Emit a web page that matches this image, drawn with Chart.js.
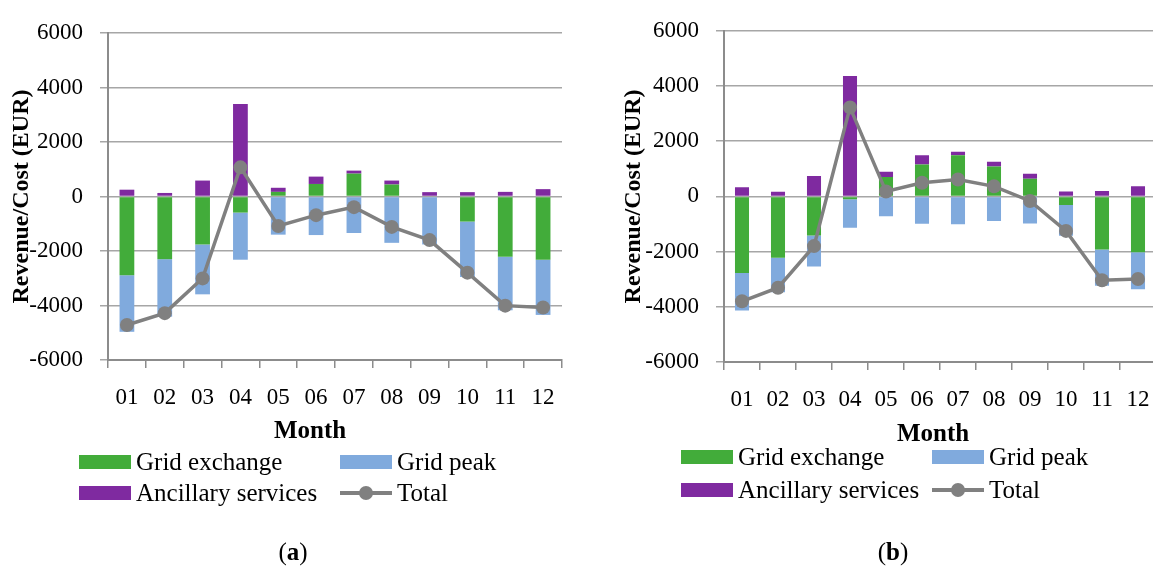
<!DOCTYPE html>
<html>
<head>
<meta charset="utf-8">
<script src="https://cdn.jsdelivr.net/npm/chart.js@4.4.1/dist/chart.umd.min.js"></script>
<style>
  html, body { margin: 0; padding: 0; background: #fff; }
  body { width: 1153px; height: 570px; overflow: hidden; position: relative; font-family: "Liberation Serif", serif; color: #000; }
  canvas { position: absolute; top: 0; }
  .txt { position: absolute; white-space: nowrap; font-size: 25px; line-height: 25px; }
  .sw { position: absolute; width: 52px; height: 14px; }
  .ln { position: absolute; width: 52px; height: 14px; }
  .ln::before { content: ""; position: absolute; left: 0; right: 0; top: 5px; height: 4px; background: #808080; }
  .ln::after { content: ""; position: absolute; left: 19px; top: 0; width: 14px; height: 14px; border-radius: 50%; background: #808080; }
</style>
</head>
<body>
<canvas id="chartA" width="576" height="570" style="left:0px"></canvas>
<canvas id="chartB" width="580" height="570" style="left:590px"></canvas>

<script>
// months on the x axis
const months = ["01", "02", "03", "04", "05", "06", "07", "08", "09", "10", "11", "12"];
const yTicks = [-6000, -4000, -2000, 0, 2000, 4000, 6000];

// (a) values in EUR
const gridExchangeA = [-2890, -2300, -1760, -590, 170, 460, 840, 440, 0, -920, -2210, -2320];
const gridPeakA = [-2075, -2110, -1830, -1730, -1400, -1415, -1340, -1700, -1760, -2035, -1965, -2025];
const ancillaryA = [250, 130, 585, 3390, 150, 270, 110, 145, 160, 160, 170, 270];
const totalA = [-4715, -4280, -3005, 1070, -1080, -685, -390, -1115, -1600, -2795, -4005, -4075];

// (b) values in EUR
const gridExchangeB = [-2775, -2225, -1415, -105, 700, 1160, 1490, 1080, 635, -315, -1920, -2025];
const gridPeakB = [-1355, -1250, -1125, -1030, -715, -995, -1005, -890, -985, -1110, -1320, -1335];
const ancillaryB = [330, 165, 740, 4360, 190, 330, 130, 175, 185, 175, 200, 365];
const totalB = [-3800, -3310, -1800, 3225, 175, 495, 615, 365, -165, -1250, -3040, -2995];

const seriesNames = ["Grid exchange", "Grid peak", "Ancillary services", "Total"];
const colors = ["#42ac3a", "#80aadd", "#7f2aa0", "#808080"];

const fontFamily = '"Liberation Serif", serif';
Chart.defaults.font.family = fontFamily;
Chart.defaults.color = "#000";

const xAxisH = 64; // room for the month labels under the axis

function makeChart(id, grid, peak, anc, total, g) {
  const ctx = document.getElementById(id).getContext("2d");
  return new Chart(ctx, {
    type: "bar",
    data: {
      labels: months,
      datasets: [
        { label: seriesNames[0], data: grid, backgroundColor: colors[0], order: 1 },
        { label: seriesNames[1], data: peak, backgroundColor: colors[1], order: 1 },
        { label: seriesNames[2], data: anc, backgroundColor: colors[2], order: 1 },
        {
          type: "line",
          label: seriesNames[3],
          data: total,
          stack: "total",
          order: 0,
          borderColor: colors[3],
          borderWidth: 3.5,
          pointRadius: 7,
          pointBackgroundColor: colors[3],
          pointBorderWidth: 0,
          tension: 0,
        },
      ],
    },
    options: {
      responsive: false,
      maintainAspectRatio: false,
      animation: false,
      layout: { padding: { left: 0, right: g.right, top: g.top, bottom: 570 - g.bottom - xAxisH } },
      plugins: { legend: { display: false }, tooltip: { enabled: false } },
      datasets: { bar: { barPercentage: 0.39, categoryPercentage: 1 } },
      scales: {
        x: {
          stacked: true,
          ticks: { font: { size: 23 }, padding: 16, maxRotation: 0, autoSkip: false },
          grid: { offset: true, drawOnChartArea: false, drawTicks: true, tickLength: 8, color: "#8c8c8c", lineWidth: 1.5 },
          border: { color: "#8c8c8c", width: 2 },
          afterFit: (s) => { s.height = xAxisH; },
        },
        y: {
          stacked: true,
          min: yTicks[0],
          max: yTicks[yTicks.length - 1],
          afterBuildTicks: (s) => { s.ticks = yTicks.map((v) => ({ value: v })); },
          ticks: { font: { size: 23 }, padding: 17, callback: (v) => String(v) },
          grid: { color: "#a6a6a6", lineWidth: 1.5, tickLength: 8 },
          border: { color: "#8c8c8c", width: 2 },
          title: {
            display: true,
            text: "Revenue/Cost (EUR)",
            font: { size: 24, weight: "bold" },
            padding: { top: g.titlePad, bottom: 0 },
          },
          afterFit: (s) => { s.width = g.axisW; },
        },
      },
    },
  });
}

makeChart("chartA", gridExchangeA, gridPeakA, ancillaryA, totalA, { axisW: 108, right: 14, top: 33, bottom: 360, titlePad: 7 });
makeChart("chartB", gridExchangeB, gridPeakB, ancillaryB, totalB, { axisW: 134, right: 14, top: 21, bottom: 362, titlePad: 29 });

// legends, axis captions and panel labels
function addText(html, left, centerY) {
  const d = document.createElement("div");
  d.className = "txt";
  d.innerHTML = html;
  d.style.left = left + "px";
  d.style.top = centerY - 13 + "px";
  document.body.appendChild(d);
  return d;
}

function addLegend(x1, x2, y1, y2) {
  const spots = [[x1, y1], [x2, y1], [x1, y2], [x2, y2]];
  seriesNames.forEach((name, i) => {
    const [x, y] = spots[i];
    const sw = document.createElement("div");
    sw.className = i === 3 ? "ln" : "sw";
    if (i !== 3) sw.style.background = colors[i];
    sw.style.left = x + "px";
    sw.style.top = y - 7 + "px";
    document.body.appendChild(sw);
    addText(name, x + 57, y);
  });
}

function addCentered(html, cx, cy) {
  const d = addText(html, cx, cy);
  d.style.transform = "translateX(-50%)";
}

addCentered("<b>Month</b>", 310, 430);
addLegend(79, 340, 462, 493);
addCentered("(<b>a</b>)", 293, 552);

addCentered("<b>Month</b>", 933, 433);
addLegend(681, 932, 457, 490);
addCentered("(<b>b</b>)", 893, 552);
</script>
</body>
</html>
